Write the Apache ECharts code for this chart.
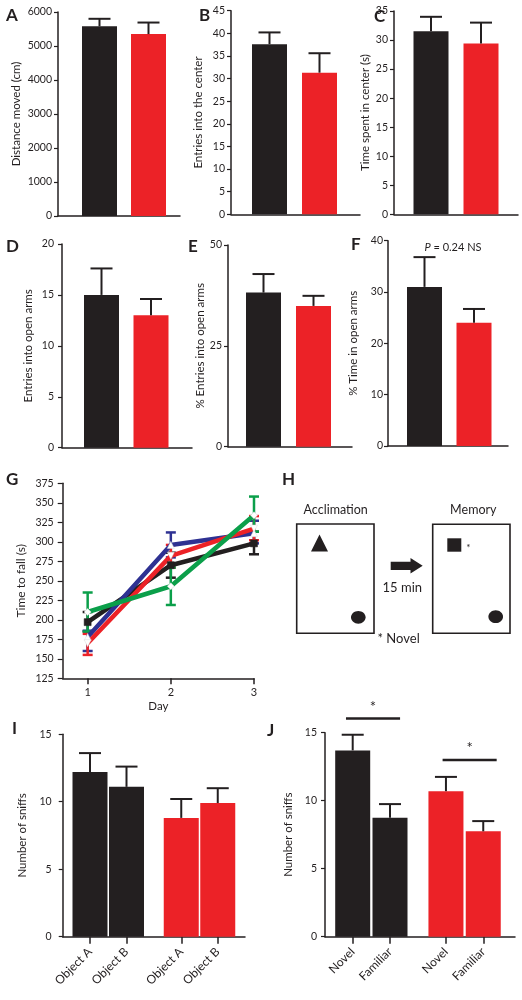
<!DOCTYPE html>
<html><head><meta charset="utf-8">
<script src="https://cdn.jsdelivr.net/npm/echarts@6/dist/echarts.min.js"></script>
<style>html,body{margin:0;padding:0;background:#fff}#c{width:522px;height:1000px}</style>
</head><body><div id="c"></div>
<script>
// ---------------- data ----------------
const groups = ['Control', 'Mutant'];
const aMeans = [5580, 5350]; const aErr = [5800, 5690];
const bMeans = [37.6, 31.3];  const bErr = [40.2, 35.6];
const cMeans = [31.5, 29.4];  const cErr = [34.0, 33.0];
const dMeans = [15.0, 13.0];  const dErr = [17.6, 14.6];
const eMeans = [38.2, 34.9];  const eErr = [42.8, 37.4];
const fMeans = [31.0, 24.0];  const fErr = [36.8, 26.7];

const gDays = [1, 2, 3];
const gBlack = [197, 270, 298]; const gBlackLo = [185, 254, 284]; const gBlackHi = [210, 286, 313];
const gBlue  = [178, 296, 311]; const gBlueLo  = [160, 280, 298]; const gBlueHi  = [186, 312, 327];
const gRed   = [170, 282, 317]; const gRedLo   = [155, 267, 302]; const gRedHi   = [182, 296, 333];
const gGreen = [210, 243, 334]; const gGreenLo = [185, 219, 313]; const gGreenHi = [235, 267, 358];

const iLabels = ['Object A', 'Object B', 'Object A', 'Object B'];
const iMeans = [12.2, 11.1, 8.8, 9.9];  const iErr = [13.6, 12.6, 10.2, 11.0];
const jLabels = ['Novel', 'Familiar', 'Novel', 'Familiar'];
const jMeans = [13.7, 8.75, 10.7, 7.75]; const jErr = [14.85, 9.75, 11.75, 8.5];
const jSigX1 = [0.82, 3.41]; const jSigX2 = [2.27, 4.86]; const jSigY = [16.05, 13.0];

// ---------------- styling ----------------
const BLK = '#231f20', RED = '#ec2227', BLUE = '#2e3192', GREEN = '#0b9f4a';
const FONT = 'Lato, "Liberation Sans", sans-serif';
const TITLE_FS = 11.5, TICK_FS = 10.5;
const grids = [], xAxes = [], yAxes = [], series = [];

function errUp(stroke, cap) {
  return function (params, api) {
    const p0 = api.coord([api.value(0), api.value(1)]);
    const p1 = api.coord([api.value(0), api.value(2)]);
    const st = { stroke: stroke, lineWidth: 2 };
    return { type: 'group', children: [
      { type: 'line', shape: { x1: p0[0], y1: p0[1], x2: p1[0], y2: p1[1] }, style: st },
      { type: 'line', shape: { x1: p1[0] - cap, y1: p1[1], x2: p1[0] + cap, y2: p1[1] }, style: st }
    ]};
  };
}
function errBoth(stroke, cap) {
  return function (params, api) {
    const x = api.value(0);
    const p0 = api.coord([x, api.value(1)]);
    const p1 = api.coord([x, api.value(2)]);
    const st = { stroke: stroke, lineWidth: 2.5 };
    return { type: 'group', children: [
      { type: 'line', shape: { x1: p0[0], y1: p0[1], x2: p1[0], y2: p1[1] }, style: st },
      { type: 'line', shape: { x1: p0[0] - cap, y1: p0[1], x2: p0[0] + cap, y2: p0[1] }, style: st },
      { type: 'line', shape: { x1: p1[0] - cap, y1: p1[1], x2: p1[0] + cap, y2: p1[1] }, style: st }
    ]};
  };
}

function addBarPanel(cfg) {
  const gi = grids.length;
  grids.push({ left: cfg.left, top: cfg.top, width: cfg.right - cfg.left, height: cfg.bottom - cfg.top });
  const pos = cfg.pos;
  const min = pos[0] - (cfg.c0 - cfg.left) / cfg.unit;
  const max = pos[0] + (cfg.right - cfg.c0) / cfg.unit;
  const lab = cfg.labels;
  xAxes.push({
    gridIndex: gi, type: 'value', min: min, max: max,
    axisLine: { show: true, onZero: false, lineStyle: { color: BLK, width: 1.5 } },
    axisTick: { show: !!lab, customValues: pos, length: 7, lineStyle: { color: BLK, width: 1.5 } },
    axisLabel: { show: !!lab, customValues: pos, rotate: 45, margin: 13, fontSize: 12, color: BLK, fontFamily: FONT,
      formatter: function (v) { const k = pos.findIndex(p => Math.abs(p - v) < 1e-6); return k >= 0 ? lab[k] : ''; } },
    splitLine: { show: false }
  });
  yAxes.push({
    gridIndex: gi, type: 'value', min: 0, max: cfg.ymax, interval: cfg.yint,
    name: cfg.name, nameLocation: 'middle', nameRotate: 90, nameGap: cfg.nameGap,
    nameTextStyle: { fontSize: TITLE_FS, color: BLK, fontFamily: FONT },
    axisLine: { show: true, onZero: false, lineStyle: { color: BLK, width: 1.5 } },
    axisTick: { show: true, length: 4, lineStyle: { color: BLK, width: 1.2 } },
    axisLabel: { fontSize: TICK_FS, color: BLK, margin: cfg.lm || 6, fontFamily: FONT, formatter: v => String(v) },
    splitLine: { show: false }
  });
  series.push({
    type: 'bar', xAxisIndex: gi, yAxisIndex: gi, barWidth: cfg.bw || 35, silent: true,
    data: cfg.means.map((v, i) => ({ value: [pos[i], v], itemStyle: { color: cfg.colors[i] } }))
  });
  series.push({
    type: 'custom', xAxisIndex: gi, yAxisIndex: gi, z: 3, silent: true,
    renderItem: errUp(BLK, 11),
    encode: { x: 0, y: [1, 2] },
    data: cfg.means.map((v, i) => [pos[i], v, cfg.err[i]])
  });
  return gi;
}

const two = [BLK, RED];
addBarPanel({ left: 58, right: 180, top: 12, bottom: 216, c0: 99.5, unit: 49, pos: [1, 2], ymax: 6000, yint: 1000, name: 'Distance moved (cm)', nameGap: 36, means: aMeans, err: aErr, colors: two });
addBarPanel({ left: 231, right: 360, top: 10.7, bottom: 214.3, c0: 269.5, unit: 50, pos: [1, 2], ymax: 45, yint: 5, name: 'Entries into the center', nameGap: 27, means: bMeans, err: bErr, colors: two });
addBarPanel({ left: 394, right: 518, top: 11, bottom: 214.3, c0: 431, unit: 50, pos: [1, 2], ymax: 35, yint: 5, name: 'Time spent in center (s)', nameGap: 23, means: cMeans, err: cErr, colors: two });
addBarPanel({ left: 62, right: 192, top: 244, bottom: 447.7, c0: 101.5, unit: 49.5, pos: [1, 2], ymax: 20, yint: 5, name: 'Entries into open arms', nameGap: 28, lm: 8, means: dMeans, err: dErr, colors: two });
addBarPanel({ left: 228, right: 352, top: 245, bottom: 446.7, c0: 263.5, unit: 50, pos: [1, 2], ymax: 50, yint: 25, name: '% Entries into open arms', nameGap: 22, means: eMeans, err: eErr, colors: two });
addBarPanel({ left: 388, right: 508, top: 240.7, bottom: 446, c0: 424.5, unit: 49.5, pos: [1, 2], ymax: 40, yint: 10, name: '% Time in open arms', nameGap: 29, lm: 5, means: fMeans, err: fErr, colors: two });

// Panel G
const gGrid = grids.length;
grids.push({ left: 62.7, top: 483.3, width: 254 - 62.7, height: 678.3 - 483.3 });
xAxes.push({
  gridIndex: gGrid, type: 'value', min: 0.7, max: 3,
  name: 'Day', nameLocation: 'middle', nameGap: 22, nameTextStyle: { fontSize: TITLE_FS, color: BLK, fontFamily: FONT },
  axisLine: { show: true, onZero: false, lineStyle: { color: BLK, width: 1.5 } },
  axisTick: { show: true, customValues: gDays, length: 6, lineStyle: { color: BLK, width: 1.5 } },
  axisLabel: { customValues: gDays, fontSize: 11, color: BLK, margin: 9, fontFamily: FONT },
  splitLine: { show: false }
});
yAxes.push({
  gridIndex: gGrid, type: 'value', min: 125, max: 375, interval: 25,
  name: 'Time to fall (s)', nameLocation: 'middle', nameRotate: 90, nameGap: 36,
  nameTextStyle: { fontSize: 12, color: BLK, fontFamily: FONT },
  axisLine: { show: true, onZero: false, lineStyle: { color: BLK, width: 1.5 } },
  axisTick: { show: true, length: 5, lineStyle: { color: BLK, width: 1.2 } },
  axisLabel: { fontSize: TICK_FS, color: BLK, margin: 9, fontFamily: FONT },
  splitLine: { show: false }
});
const invTri = 'path://M0,0 L10,0 L5,9 Z';
[[gBlack, gBlackLo, gBlackHi, BLK, 'rect', BLK],
 [gBlue, gBlueLo, gBlueHi, BLUE, 'triangle', '#fff'],
 [gRed, gRedLo, gRedHi, RED, invTri, '#fff'],
 [gGreen, gGreenLo, gGreenHi, GREEN, 'diamond', '#fff']].forEach(function (s) {
  series.push({
    type: 'custom', xAxisIndex: gGrid, yAxisIndex: gGrid, z: 2, silent: true,
    renderItem: errBoth(s[3], 5), encode: { x: 0, y: [1, 2] },
    data: gDays.map((d, i) => [d, s[1][i], s[2][i]])
  });
  series.push({
    type: 'line', xAxisIndex: gGrid, yAxisIndex: gGrid, z: 2, silent: true,
    data: gDays.map((d, i) => [d, s[0][i]]),
    lineStyle: { color: s[3], width: 4.5 }, itemStyle: { color: s[5], borderColor: s[5] === '#fff' ? '#ddd' : BLK, borderWidth: 0.5 },
    symbol: s[4], symbolSize: 7, showSymbol: true
  });
});

// Panels I and J
const four = [BLK, BLK, RED, RED];
const ijPos = [1, 2, 3.5, 4.5];
addBarPanel({ left: 62.7, right: 245, top: 734.2, bottom: 936.7, c0: 90, unit: 36.5, pos: ijPos, ymax: 15, yint: 5, name: 'Number of sniffs', nameGap: 34, lm: 11, means: iMeans, err: iErr, colors: four, labels: iLabels });
const jg = addBarPanel({ left: 325, right: 515, top: 732.7, bottom: 936.7, c0: 352.7, unit: 37.3, pos: ijPos, ymax: 15, yint: 5, name: 'Number of sniffs', nameGap: 31, lm: 8, means: jMeans, err: jErr, colors: four, labels: jLabels });
series.push({
  type: 'custom', xAxisIndex: jg, yAxisIndex: jg, clip: false, silent: true, z: 4,
  encode: { x: [0, 1], y: 2 },
  data: jSigY.map((y, i) => [jSigX1[i], jSigX2[i], y]),
  renderItem: function (params, api) {
    const a = api.coord([api.value(0), api.value(2)]);
    const b = api.coord([api.value(1), api.value(2)]);
    return { type: 'group', children: [
      { type: 'line', shape: { x1: a[0], y1: a[1], x2: b[0], y2: b[1] }, style: { stroke: BLK, lineWidth: 2.5 } },
      { type: 'text', x: (a[0] + b[0]) / 2, y: a[1] - 4, style: { text: '*', font: '15px ' + FONT, fill: BLK, align: 'center', verticalAlign: 'bottom' } }
    ]};
  }
});

// ---------------- annotations & schematic ----------------
function txt(t, x, y, size, opts) {
  opts = opts || {};
  return { type: 'text', x: x, y: y, silent: true, style: Object.assign({
    text: t, fill: BLK, fontSize: size, fontFamily: FONT, fontWeight: opts.bold ? 'bold' : 'normal',
    align: opts.align || 'left', verticalAlign: opts.va || 'middle' }, opts.extra || {}) };
}
const graphics = [
  txt('A', 6, 16, 17, { bold: true }), txt('B', 199, 16, 17, { bold: true }), txt('C', 374, 17, 17, { bold: true }),
  txt('D', 6, 247, 17, { bold: true }), txt('E', 188, 247, 17, { bold: true }), txt('F', 351, 245, 17, { bold: true }),
  txt('G', 6, 480, 17, { bold: true }), txt('H', 282, 480, 17, { bold: true }),
  txt('I', 12, 729, 17, { bold: true }), txt('J', 267, 731, 17, { bold: true }),
  txt('{i|P} = 0.24 NS', 453, 247, 11, { align: 'center', extra: { rich: { i: { fontStyle: 'italic', fontSize: 11, fontFamily: FONT, fill: BLK } } } }),
  // H schematic
  txt('Acclimation', 335.7, 510, 12.5, { align: 'center' }),
  txt('Memory', 473.3, 510, 12.5, { align: 'center' }),
  { type: 'rect', silent: true, shape: { x: 296.7, y: 524, width: 77.3, height: 109.3 }, style: { fill: 'none', stroke: BLK, lineWidth: 1.6 } },
  { type: 'rect', silent: true, shape: { x: 432.7, y: 524.3, width: 77.3, height: 109 }, style: { fill: 'none', stroke: BLK, lineWidth: 1.6 } },
  { type: 'polygon', silent: true, shape: { points: [[319.5, 534.5], [311, 551.5], [328, 551.5]] }, style: { fill: BLK } },
  { type: 'rect', silent: true, shape: { x: 447.3, y: 538.3, width: 14, height: 13.4 }, style: { fill: BLK } },
  txt('*', 468.5, 548, 10, { align: 'center' }),
  { type: 'ellipse', silent: true, shape: { cx: 358.3, cy: 617.3, rx: 7.3, ry: 6.4 }, style: { fill: BLK } },
  { type: 'ellipse', silent: true, shape: { cx: 495.7, cy: 616.7, rx: 7.3, ry: 6.4 }, style: { fill: BLK } },
  { type: 'polygon', silent: true, shape: { points: [[390.7, 561.7], [410.5, 561.7], [410.5, 558], [422.7, 565.8], [410.5, 573.5], [410.5, 570], [390.7, 570]] }, style: { fill: BLK } },
  txt('15 min', 402.3, 588, 13, { align: 'center' }),
  txt('* Novel', 377.5, 639, 13, { align: 'left' })
];

const chart = echarts.init(document.getElementById('c'), null, { renderer: 'canvas' });
chart.setOption({
  animation: false,
  backgroundColor: '#fff',
  textStyle: { fontFamily: FONT, color: BLK },
  grid: grids, xAxis: xAxes, yAxis: yAxes, series: series, graphic: graphics
});
</script></body></html>
